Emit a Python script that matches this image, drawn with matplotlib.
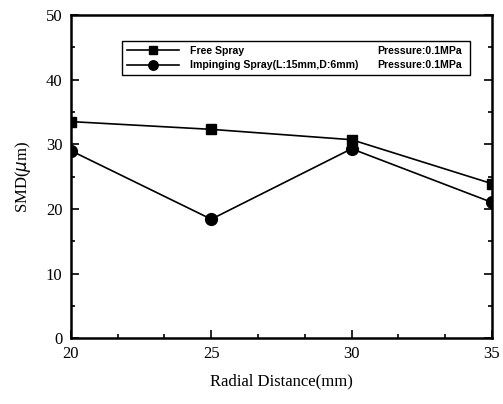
import matplotlib
matplotlib.use("Agg")
import matplotlib.pyplot as plt
from matplotlib.ticker import MultipleLocator

# radial positions (mm) and Sauter mean diameter (um)
radial = [20, 25, 30, 35]
smd_free = [33.5, 32.3, 30.7, 23.9]
smd_impinging = [29.0, 18.4, 29.3, 21.0]

label_free = "Free Spray"
label_imp = "Impinging Spray(L:15mm,D:6mm)"
pressure_text = "Pressure:0.1MPa"

serif = "Liberation Serif"
sans = "Liberation Sans"

fig = plt.figure(figsize=(5.03, 4.04), dpi=100)
ax = fig.add_axes([0.141, 0.163, 0.837, 0.800])

ax.plot(radial, smd_free, color="black", lw=1.2, marker="s", ms=6.5, label=label_free)
ax.plot(radial, smd_impinging, color="black", lw=1.2, marker="o", ms=8.5, label=label_imp)

ax.set_xlim(20, 35)
ax.set_ylim(0, 50)
ax.xaxis.set_major_locator(MultipleLocator(5))
ax.xaxis.set_minor_locator(MultipleLocator(5 / 3))
ax.yaxis.set_major_locator(MultipleLocator(10))
ax.yaxis.set_minor_locator(MultipleLocator(5))
ax.tick_params(which="both", direction="in", right=True, top=False,
               labelsize=12, width=1.2)
ax.tick_params(which="major", length=6, pad=6)
ax.tick_params(which="minor", length=3)
for lab in ax.get_xticklabels() + ax.get_yticklabels():
    lab.set_fontfamily(serif)
for sp in ax.spines.values():
    sp.set_linewidth(1.8)

ax.set_xlabel("Radial Distance(mm)", fontfamily=serif, fontsize=12, labelpad=8)
ax.set_ylabel("SMD($\\mu$m)", fontfamily=serif, fontsize=12, labelpad=9)

# legend box stretched across most of the plot width
leg = ax.legend(loc="lower left", bbox_to_anchor=(0.121, 0.814, 0.827, 0.102),
                mode="expand", borderaxespad=0, frameon=True, fancybox=False,
                edgecolor="black", framealpha=1, borderpad=0.45,
                handlelength=5.0, handletextpad=1.0, labelspacing=0.45,
                markerscale=0.8,
                prop={"family": sans, "weight": "bold", "size": 7.6})
leg.get_frame().set_linewidth(1.0)

# pressure column on the right side of the legend box, aligned with each row
fig.canvas.draw()
inv = ax.transAxes.inverted()
for t in leg.get_texts():
    bb = t.get_window_extent()
    yy = inv.transform((0, (bb.y0 + bb.y1) / 2))[1]
    ax.text(0.929, yy, pressure_text, transform=ax.transAxes, ha="right",
            va="center", fontfamily=sans, fontweight="bold", fontsize=7.6,
            zorder=10)

fig.savefig("out.png", dpi=100)
